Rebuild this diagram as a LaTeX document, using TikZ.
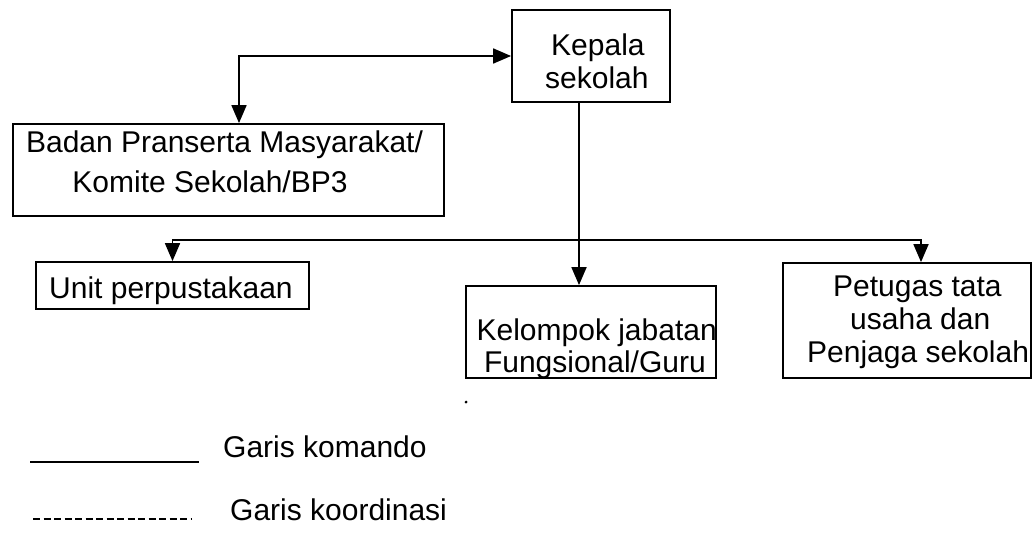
\documentclass[tikz,border=0pt]{standalone}
\usepackage{fontspec}
\setmainfont{Liberation Sans}
\usetikzlibrary{arrows.meta,calc}
\tikzset{
  orgbox/.style={draw=black, line width=1.8pt, rectangle, inner sep=0pt, fill=white},
  lbl/.style={inner sep=0pt, font=\fontsize{30}{36}\selectfont, text=black},
  conn/.style={line width=1.8pt, draw=black},
  arr/.style={conn, -{Triangle[length=18pt,width=15pt]}},
  darr/.style={conn, {Triangle[length=18pt,width=15pt]}-{Triangle[length=18pt,width=15pt]}},
}
\begin{document}
\begin{tikzpicture}[x=1pt,y=-1pt]
\useasboundingbox[fill=white] (0,0) rectangle (1035,533);

% boxes
\node[orgbox, minimum width=158pt, minimum height=92pt] (kepala) at (591,56) {};
\node[orgbox, minimum width=431pt, minimum height=92pt] (badan) at (228.5,170) {};
\node[orgbox, minimum width=273pt, minimum height=47pt] (unit) at (172.5,285.5) {};
\node[orgbox, minimum width=250pt, minimum height=92pt] (kelompok) at (591,332) {};
\node[orgbox, minimum width=248pt, minimum height=115pt] (petugas) at (907,320.5) {};

% texts
\node[lbl, anchor=base west] (kepalaA) at (551,55) {Kepala};
\node[lbl, anchor=base west] (kepalaB) at (545,88) {sekolah};
\node[lbl, anchor=base] (badanA) at (224.5,152) {Badan Pranserta Masyarakat/};
\node[lbl, anchor=base] (badanB) at (210,192) {Komite Sekolah/BP3};
\node[lbl, anchor=base west] (unitA) at (49,298) {Unit perpustakaan};
\node[lbl, anchor=base east] (kelompokA) at (717,340) {Kelompok jabatan};
\node[lbl, anchor=base east] (kelompokB) at (706,372) {Fungsional/Guru};
\node[lbl, anchor=base west] (petugasA) at (833,296) {Petugas tata};
\node[lbl, anchor=base west] (petugasB) at (850,329) {usaha dan};
\node[lbl, anchor=base west] (petugasC) at (807,362) {Penjaga sekolah};

% connectors
\draw[darr] (kepala.west) -| ([xshift=10.5pt]badan.north);
\coordinate (junction) at ($([xshift=-12pt]kepala.south)!0.5!([xshift=-12pt]kepala.south)$);
\draw[arr] ([xshift=-12pt]kepala.south) -- ([xshift=-12pt]kepala.south |- kelompok.north);
\coordinate (branch) at (579,240);
\draw[arr] (branch) -| (unit.north);
\draw[arr] (branch) -| ([xshift=14pt]petugas.north);

% stray dot
\fill (466,402) circle (1.5pt);

% legend
\coordinate (solidA) at (30,462);
\coordinate (solidB) at (199,462);
\draw[conn] (solidA) -- (solidB);
\node[lbl, anchor=base west] (legkomando) at (223,457) {Garis komando};
\coordinate (dashA) at (33,519);
\coordinate (dashB) at (192,519);
\draw[line width=1.5pt, dash pattern=on 7pt off 3.5pt] (dashA) -- (dashB);
\node[lbl, anchor=base west] (legkoord) at (230,520) {Garis koordinasi};
\end{tikzpicture}
\end{document}
